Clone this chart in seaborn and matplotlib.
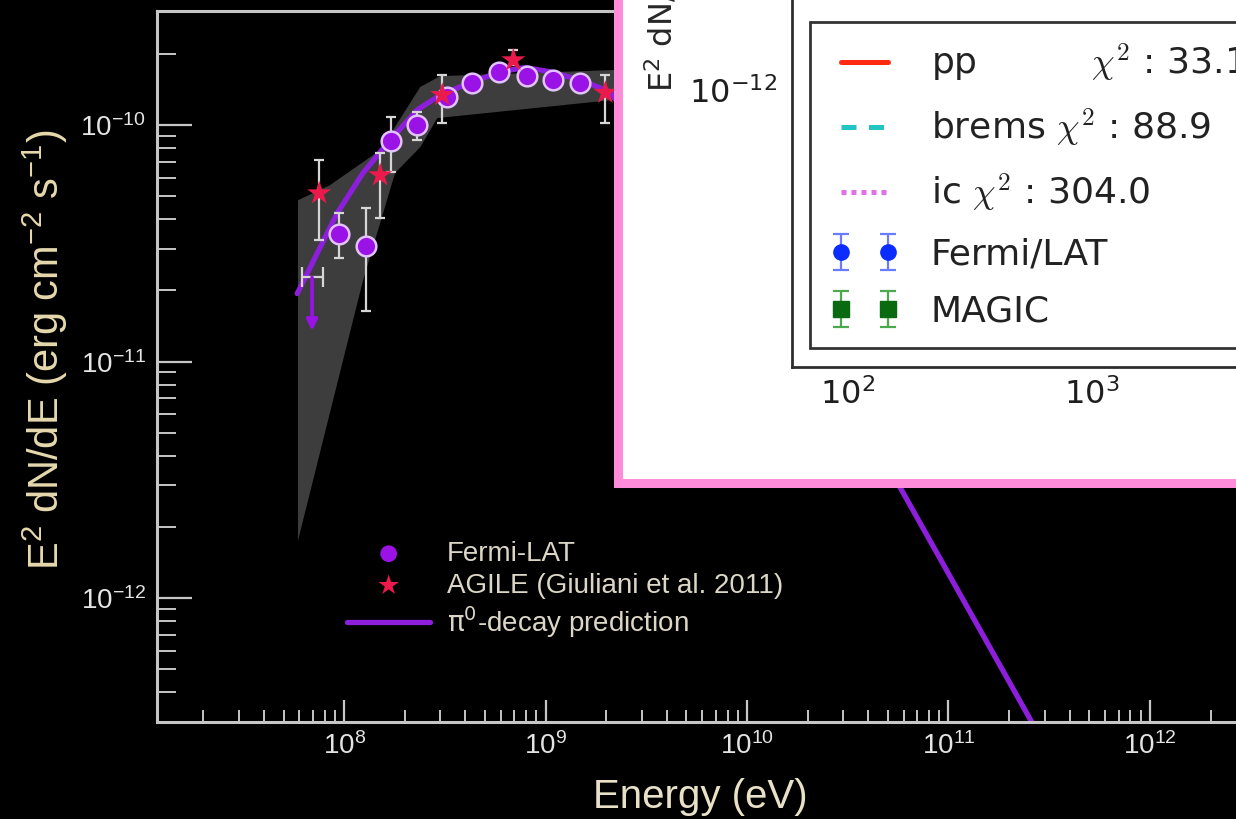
import numpy as np
import matplotlib
matplotlib.use("Agg")
import matplotlib.pyplot as plt
import seaborn as sns
from matplotlib.ticker import LogLocator, NullFormatter

# ---------------------------------------------------------------------------
# Data (energies in eV, fluxes E^2 dN/dE in erg cm^-2 s^-1)
# ---------------------------------------------------------------------------
fermi_E = np.array([9.45e7, 1.29e8, 1.71e8, 2.31e8, 3.25e8, 4.32e8, 5.89e8, 8.1e8, 1.09e9, 1.49e9])
fermi_F = np.array([3.48e-11, 3.07e-11, 8.55e-11, 1.0e-10, 1.31e-10, 1.51e-10, 1.68e-10, 1.61e-10, 1.55e-10, 1.51e-10])
fermi_hi = np.array([4.23e-11, 4.45e-11, 1.08e-10, 1.135e-10, 1.40e-10, 1.58e-10, 1.75e-10, 1.68e-10, 1.62e-10, 1.58e-10])
fermi_lo = np.array([2.73e-11, 1.64e-11, 6.32e-11, 8.64e-11, 1.23e-10, 1.45e-10, 1.61e-10, 1.54e-10, 1.48e-10, 1.44e-10])

# Fermi-LAT upper limit (lowest energy bin)
ul_E = np.array([6.93e7])
ul_E_lo = np.array([6.18e7])
ul_E_hi = np.array([7.87e7])
ul_F = np.array([2.27e-11])
ul_F_arrow = np.array([1.35e-11])

agile_E = np.array([7.52e7, 1.51e8, 3.07e8, 6.92e8, 1.98e9])
agile_F = np.array([5.15e-11, 6.14e-11, 1.34e-10, 1.88e-10, 1.37e-10])
agile_hi = np.array([7.1e-11, 7.6e-11, 1.63e-10, 2.08e-10, 1.63e-10])
agile_lo = np.array([3.26e-11, 4.03e-11, 1.02e-10, 1.79e-10, 1.02e-10])

# pi0-decay model curve
pi0_E = np.array([5.85e7, 7.35e7, 9.23e7, 1.24e8, 1.69e8, 2.31e8, 3.0e8, 4.23e8,
                  5.96e8, 7.93e8, 1.05e9, 1.49e9, 2.09e9, 5.78e10, 4.0e11])
pi0_F = np.array([1.94e-11, 2.87e-11, 4.24e-11, 6.27e-11, 8.63e-11, 1.16e-10, 1.34e-10, 1.51e-10,
                  1.68e-10, 1.75e-10, 1.68e-10, 1.55e-10, 1.38e-10, 2.92e-12, 1.55e-13])

# systematic uncertainty band (upper edge left->right, then lower edge right->left)
band_E = np.array([5.9e7, 8.5e7, 1.51e8, 2.39e8, 3.0e8, 2.24e9,
                   2.24e9, 2.9e8, 2.39e8, 1.79e8, 1.24e8, 5.9e7])
band_F = np.array([4.81e-11, 5.57e-11, 7.83e-11, 1.45e-10, 1.61e-10, 1.71e-10,
                   1.28e-10, 1.07e-10, 8.07e-11, 6.27e-11, 2.2e-11, 1.75e-12])

legend_labels = ["Fermi-LAT", "AGILE (Giuliani et al. 2011)", r"$\mathrm{\pi}^{0}$-decay prediction"]

# inset legend entries
inset_labels = [r"pp          $\chi^2$ : 33.1", r"brems $\chi^2$ : 88.9", r"ic $\chi^2$ : 304.0",
                "Fermi/LAT", "MAGIC"]

# ---------------------------------------------------------------------------
sns.set_theme(style="white")
plt.rcParams["font.family"] = ["Liberation Sans", "DejaVu Sans"]
plt.rcParams["axes.unicode_minus"] = False

W, H = 1236, 819
fig = plt.figure(figsize=(W / 100, H / 100), dpi=100, facecolor="black")


def rect(x0, y0, x1, y1):
    """Axes rectangle from pixel edges measured from the top-left corner."""
    return [x0 / W, 1 - y1 / H, (x1 - x0) / W, (y1 - y0) / H]


# ---------------------------- main spectrum --------------------------------
ax = fig.add_axes(rect(157, 11, 1300, 722))
ax.set_facecolor("black")
ax.set_xscale("log")
ax.set_yscale("log")
ax.set_xlim(10 ** 7.071, 10 ** 12.745)
ax.set_ylim(10 ** -12.523, 10 ** -9.518)

ax.fill(band_E, band_F, color="#3d3d3d", lw=0, zorder=1)

sns.lineplot(x=pi0_E, y=pi0_F, sort=False, estimator=None, color="#8d1fdc",
             linewidth=3.8, ax=ax, zorder=2)

err_kw = dict(fmt="none", ecolor="#d6d6d6", elinewidth=1.6, capsize=3.5, capthick=1.6, zorder=3)
ax.errorbar(fermi_E, fermi_F, yerr=[fermi_F - fermi_lo, fermi_hi - fermi_F], **err_kw)
ax.errorbar(agile_E, agile_F, yerr=[agile_F - agile_lo, agile_hi - agile_F], **err_kw)
ax.errorbar(ul_E, ul_F, xerr=[ul_E - ul_E_lo, ul_E_hi - ul_E],
            fmt="none", ecolor="#d6d6d6", elinewidth=1.6, capsize=7, capthick=1.6, zorder=3)
for e, f0, f1 in zip(ul_E, ul_F, ul_F_arrow):
    ax.annotate("", xy=(e, f1), xytext=(e, f0),
                arrowprops=dict(arrowstyle="-|>", color="#9a12e6", lw=2.6,
                                mutation_scale=16, shrinkA=0, shrinkB=0), zorder=4)

sns.scatterplot(x=fermi_E, y=fermi_F, s=200, color="#9a12e6", edgecolor="#e2c2ff",
                linewidth=1.8, ax=ax, zorder=4)
sns.scatterplot(x=agile_E, y=agile_F, marker="*", s=330, color="#ea1a4c", edgecolor="none",
                ax=ax, zorder=5)

ax.xaxis.set_major_locator(LogLocator(base=10, numticks=20))
ax.xaxis.set_minor_locator(LogLocator(base=10, subs=np.arange(2, 10), numticks=40))
ax.yaxis.set_major_locator(LogLocator(base=10, numticks=20))
ax.yaxis.set_minor_locator(LogLocator(base=10, subs=np.arange(2, 10), numticks=40))
ax.xaxis.set_minor_formatter(NullFormatter())
ax.yaxis.set_minor_formatter(NullFormatter())

spine_col = "#c6c6c6"
for s in ax.spines.values():
    s.set_color(spine_col)
    s.set_linewidth(2.2)
ax.tick_params(axis="x", which="major", direction="in", length=15.5, width=1.6, color=spine_col,
               labelcolor="#e4e4e4", labelsize=20, pad=7, top=False, bottom=True)
ax.tick_params(axis="x", which="minor", direction="in", length=8.5, width=1.4, color=spine_col,
               top=False, bottom=True)
ax.tick_params(axis="y", which="major", direction="in", length=25, width=1.6, color=spine_col,
               labelcolor="#e4e4e4", labelsize=20, pad=8, right=False, left=True)
ax.tick_params(axis="y", which="minor", direction="in", length=13.5, width=1.4, color=spine_col,
               right=False, left=True)

ax.set_xlabel("Energy (eV)", fontsize=29, color="#e8e1c8")
ax.xaxis.set_label_coords((700 - 157) / 1143, (722 - 778) / 711)
ax.set_ylabel(r"E$^{\mathregular{2}}$ dN/dE (erg cm$^{\mathregular{-2}}$ s$^{\mathregular{-1}}$)",
              fontsize=30, color="#e6d9ad")
ax.yaxis.set_label_coords((70 - 157) / 1143, (722 - 350) / 711)

handles = [ax.collections[-2], ax.collections[-1], ax.lines[0]]
leg = ax.legend(handles, legend_labels, loc="upper left",
                bbox_to_anchor=(347 / W, 1 - 541 / H), bbox_transform=fig.transFigure,
                frameon=False, fontsize=20, borderpad=0, borderaxespad=0,
                handlelength=3.0, handletextpad=0.6, labelspacing=0.2, markerscale=0.85)
for t in leg.get_texts():
    t.set_color("#dcd6c6")
for h in leg.legend_handles[:2]:
    h.set_edgecolor("none")

# ---------------------------- inset panel ----------------------------------
frame = fig.add_axes(rect(617.5, -60, 1300, 482.5))
frame.set_facecolor("white")
frame.set_xticks([])
frame.set_yticks([])
for s in frame.spines.values():
    s.set_color("#ff8bdb")
    s.set_linewidth(6.5)

ins = fig.add_axes(rect(792, -60, 1300, 367))
ins.set_facecolor("white")
ins.set_xscale("log")
ins.set_yscale("log")
ins.set_xlim(10 ** 1.7705, 10 ** 3.8525)
ins.set_ylim(10 ** -12.888, 10 ** -11.519)
ins.xaxis.set_major_locator(LogLocator(base=10, numticks=20))
ins.xaxis.set_minor_locator(LogLocator(base=10, subs=np.arange(2, 10), numticks=40))
ins.yaxis.set_major_locator(LogLocator(base=10, numticks=20))
ins.yaxis.set_minor_locator(LogLocator(base=10, subs=np.arange(2, 10), numticks=40))
ins.xaxis.set_minor_formatter(NullFormatter())
ins.yaxis.set_minor_formatter(NullFormatter())
for s in ins.spines.values():
    s.set_color("#2e2e2e")
    s.set_linewidth(2.0)
ins.tick_params(axis="both", which="major", direction="in", length=8.5, width=1.1, color="#2e2e2e",
                labelcolor="#1e1e1e", labelsize=23, top=False, right=False)
ins.tick_params(axis="x", which="major", pad=8)
ins.tick_params(axis="y", which="major", pad=11)
ins.tick_params(axis="both", which="minor", direction="in", length=4, width=1.0, color="#2e2e2e",
                top=False, right=False)
for lab in ins.get_xticklabels() + ins.get_yticklabels():
    lab.set_fontfamily("DejaVu Sans")

fig.text(662 / W, 1 - 92 / H, r"E$^2$ dN/dE (erg cm$^{-2}$ s$^{-1}$)", rotation=90,
         ha="center", va="bottom", fontsize=23, color="#262626", family="DejaVu Sans")

nan = np.array([np.nan])
h_pp, = ins.plot(nan, nan, color="#ff2a10", lw=3.6)
h_br, = ins.plot(nan, nan, color="#22c4c4", lw=3.6, ls=(0, (3, 2.5)))
h_ic, = ins.plot(nan, nan, color="#e070e8", lw=3.6, ls=(0, (1, 1)))
h_fl = ins.errorbar(nan, nan, yerr=nan, fmt="o", color="#0a2cff", ms=11,
                    ecolor="#6a7cff", elinewidth=1.6, capsize=6, capthick=1.6)
h_mg = ins.errorbar(nan, nan, yerr=nan, fmt="s", color="#0a6a10", ms=11,
                    ecolor="#4caa4c", elinewidth=1.6, capsize=6, capthick=1.6)

ileg = ins.legend([h_pp, h_br, h_ic, h_fl, h_mg], inset_labels, loc="upper left",
                  bbox_to_anchor=(810 / W, 1 - 22 / H), bbox_transform=fig.transFigure,
                  borderaxespad=0, numpoints=2, fancybox=False, framealpha=1,
                  prop={"family": "DejaVu Sans", "size": 26}, borderpad=0.55,
                  handlelength=1.9, handletextpad=0.9, labelspacing=0.64)
ileg.get_frame().set_edgecolor("#333333")
ileg.get_frame().set_linewidth(2.0)
for t in ileg.get_texts():
    t.set_color("#222222")
    t.set_math_fontfamily("cm")

fig.savefig("out.png", dpi=100, facecolor="black")
